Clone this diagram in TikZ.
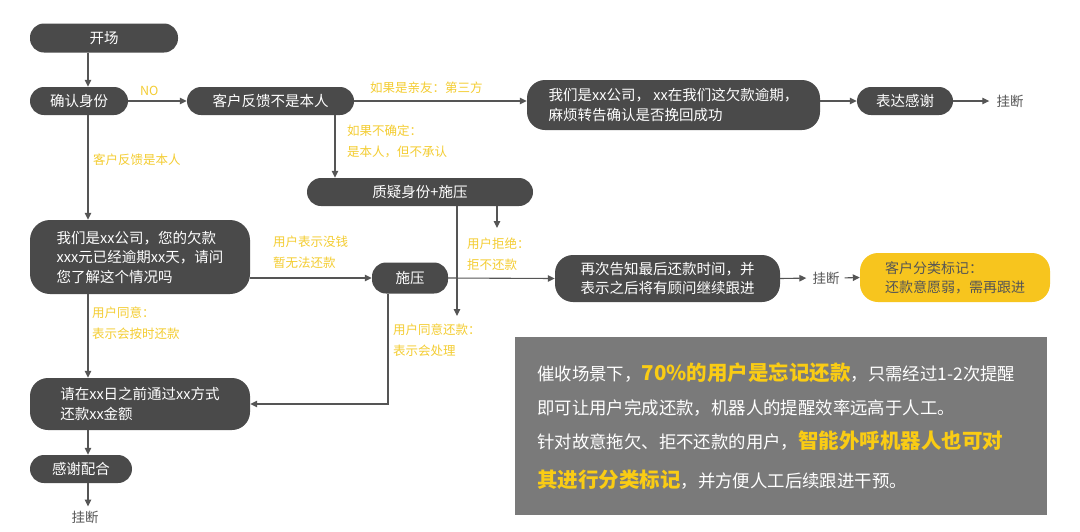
\documentclass[tikz,border=0pt]{standalone}
\usepackage{fontspec}
\setmainfont{Noto Sans CJK SC}
\usetikzlibrary{arrows.meta,calc}
\definecolor{boxc}{RGB}{74,74,74}
\definecolor{linec}{RGB}{85,85,85}
\definecolor{lab}{RGB}{244,205,50}
\definecolor{ybox}{RGB}{247,197,30}
\definecolor{infoc}{RGB}{122,122,122}
\definecolor{hi}{RGB}{250,204,20}
\newcommand{\fw}{\color{white}\fontsize{17.4}{20}\selectfont}
\newcommand{\fy}{\color{hi}\fontsize{20.5}{22}\selectfont\bfseries}
\begin{document}
\begin{tikzpicture}[x=1pt,y=-1pt,
 pill/.style={draw=none, fill=boxc, text=white, rounded corners=14pt, inner sep=0pt, font=\fontsize{14.5}{19.5}\selectfont, align=left},
 arr/.style={draw=linec, line width=1.1pt, -{Triangle[length=7pt,width=6.5pt]}},
 lbl/.style={text=lab, font=\fontsize{12.5}{21}\selectfont, align=left, inner sep=0pt},
 endt/.style={text=linec, font=\fontsize{13.5}{15}\selectfont, inner sep=0pt},
]
\useasboundingbox (0,0) rectangle (1080,531);
\fill[white] (0,0) rectangle (1080,531);

% nodes
\node[pill, minimum width=148pt, minimum height=29pt] (kc) at (104,38) {开场};
\node[pill, minimum width=98pt, minimum height=28pt] (qr) at (79,101) {确认身份};
\node[pill, minimum width=167pt, minimum height=28pt] (fk) at (270.5,101) {客户反馈不是本人};
\node[pill, minimum width=293pt, minimum height=50pt, rounded corners=18pt] (wm1) at (673.5,105) {我们是xx公司， xx在我们这欠款逾期，\\麻烦转告确认是否挽回成功};
\node[pill, minimum width=96pt, minimum height=28pt] (bd) at (905,101) {表达感谢};
\node[endt] (gd1) at (1010,101) {挂断};
\node[pill, minimum width=226pt, minimum height=28pt] (zy) at (420,192) {质疑身份+施压};
\node[pill, minimum width=220pt, minimum height=74pt, rounded corners=20pt] (wm2) at (140,257) {我们是xx公司，您的欠款\\xxx元已经逾期xx天，请问\\您了解这个情况吗};
\node[pill, minimum width=76pt, minimum height=31pt] (sy) at (410,278) {施压};
\node[pill, minimum width=225pt, minimum height=47pt, rounded corners=18pt] (zc) at (667.5,278.5) {再次告知最后还款时间，并\\表示之后将有顾问继续跟进};
\node[endt] (gd2) at (826,278) {挂断};
\node[fill=ybox, rounded corners=18pt, minimum width=190pt, minimum height=49pt, inner sep=0pt, text=linec, align=left, font=\fontsize{14}{19}\selectfont] (yb) at (955,277.5) {客户分类标记：\\还款意愿弱，需再跟进};
\node[pill, minimum width=220pt, minimum height=52pt, rounded corners=18pt] (qz) at (140,404) {请在xx日之前通过xx方式\\还款xx金额};
\node[pill, minimum width=102pt, minimum height=28pt] (gx) at (81,469) {感谢配合};
\node[endt] (gd3) at (85,517) {挂断};

% info box
\node[fill=infoc, minimum width=532pt, minimum height=178pt, inner sep=0pt] (info) at (781,426) {};
\node[anchor=base west, inner sep=0pt] (t1) at (537,380) {{\fw 催收场景下，}{\fy 70\%的用户是忘记还款}{\fw ，只需经过1-2次提醒}};
\node[anchor=base west, inner sep=0pt] (t2) at (537,414) {{\fw 即可让用户完成还款，机器人的提醒效率远高于人工。}};
\node[anchor=base west, inner sep=0pt] (t3) at (537,448) {{\fw 针对故意拖欠、拒不还款的用户，}{\fy 智能外呼机器人也可对}};
\node[anchor=base west, inner sep=0pt] (t4) at (537,487) {{\fy 其进行分类标记}{\fw ，并方便人工后续跟进干预。}};

% helper coordinates
\coordinate (colx) at (88,0);
\coordinate (c335) at (335,0);
\coordinate (c388) at (388,0);
\coordinate (c457) at (457,0);
\coordinate (c497) at (497,0);
\coordinate (e457) at (457,316);
\coordinate (e497) at (497,228);

% connectors
\draw[arr] (kc.south -| colx) -- (qr.north -| colx);
\draw[arr] (qr.east) -- (fk.west);
\draw[arr] (fk.east) -- (fk.east -| wm1.west);
\draw[arr] (wm1.east |- bd.west) -- (bd.west);
\draw[arr, shorten >=7pt] (bd.east) -- (gd1.west);
\draw[arr] (fk.south -| c335) -- (zy.north -| c335);
\draw[arr] (zy.south -| c497) -- (e497);
\draw[arr] (zy.south -| c457) -- (e457);
\draw[arr] (qr.south -| colx) -- (wm2.north -| colx);
\draw[arr] (wm2.east |- sy.west) -- (sy.west);
\draw[arr] (sy.east) -- (zc.west);
\draw[arr] (sy.south -| c388) |- (qz.east);
\draw[arr] (wm2.south -| colx) -- (qz.north -| colx);
\draw[arr] (qz.south -| colx) -- (gx.north -| colx);
\draw[arr, shorten >=4pt] (gx.south -| colx) -- (gd3.north -| colx);
\draw[arr, shorten >=6pt] (zc.east) -- (gd2.west);
\draw[arr, shorten <=5pt] (gd2.east) -- (yb.west);

% labels
\node[lbl, anchor=west] (l1) at (140,91) {NO};
\node[lbl, anchor=west] (l2) at (370,88) {如果是亲友：第三方};
\node[lbl, anchor=west] (l3) at (347,141) {如果不确定：\\是本人，但不承认};
\node[lbl, anchor=west] (l4) at (93,160) {客户反馈是本人};
\node[lbl, anchor=west] (l5) at (273,252) {用户表示没钱\\暂无法还款};
\node[lbl, anchor=west] (l6) at (467,254) {用户拒绝：\\拒不还款};
\node[lbl, anchor=west] (l7) at (92,323) {用户同意：\\表示会按时还款};
\node[lbl, anchor=west] (l8) at (393,340) {用户同意还款：\\表示会处理};
\end{tikzpicture}
\end{document}
